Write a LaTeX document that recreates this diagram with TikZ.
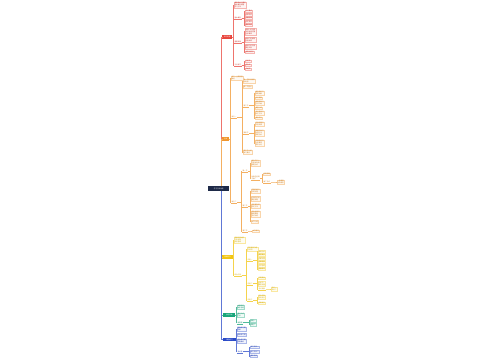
\documentclass[tikz,border=0pt]{standalone}
\usepackage{fontspec}
\newfontfamily\cjk{Noto Sans CJK SC}
\definecolor{cN}{HTML}{1E2A48}
\definecolor{cR}{HTML}{E8453C}
\definecolor{cO}{HTML}{F0962E}
\definecolor{cY}{HTML}{F2C511}
\definecolor{cG}{HTML}{17A57A}
\definecolor{cB}{HTML}{2B4BC8}
\tikzset{
  topic/.style={fill=#1,text=white,inner sep=.8pt,minimum height=3.4pt},
  leaf/.style={draw=#1!40,fill=#1!6,line width=.2pt,text=#1!85!black,align=left,inner sep=.5pt},
  tag/.style={text=#1!85!black,align=left,inner sep=.4pt,
    append after command={(\tikzlastnode.south west) edge[draw=#1!75,line width=.22pt] (\tikzlastnode.south east)}},
  link/.style={draw=#1!75,line width=.22pt}
}

\begin{document}
\begin{tikzpicture}
  [x=1pt,y=-1pt,every node/.style={anchor=west,font=\cjk\fontsize{1.6}{1.9}\selectfont}]
  \fill[white] (0,0) rectangle (500,360);
  \useasboundingbox (0,0) rectangle (500,360);

  \node[fill=cN,text=white,inner sep=.8pt,minimum width=21pt,minimum height=5pt] (root) at (208,188.5) {学习方法总结};
  \coordinate (rt) at (221.5,186);
  \coordinate (rb) at (221.5,191);

  % red
  \node[topic=cR,minimum width=10pt] (red) at (222,37) {知识梳理};
  \node[leaf=cR] (r0) at (234,5) {课程目标与要求\\基本概念梳理\\学习方法};
  \node[tag=cR] (r1) at (234,18) {基本概念};
  \node[leaf=cR] (r1a) at (245,11) {定义要点};
  \node[leaf=cR] (r1b) at (245,14.5) {性质特点};
  \node[leaf=cR] (r1c) at (245,18) {分类方法};
  \node[leaf=cR] (r1d) at (245,21.5) {判定条件};
  \node[leaf=cR] (r1e) at (245,25) {相关公式};
  \node[tag=cR] (r2) at (234,42) {重要规律};
  \node[leaf=cR] (r2a) at (245,31.5) {规律一的内容\\及其适用范围\\注意事项};
  \node[leaf=cR] (r2b) at (245,39.5) {规律二的推导\\过程说明};
  \node[leaf=cR] (r2c) at (245,46.5) {规律三的应用\\典型实例};
  \node[leaf=cR] (r2d) at (245,52) {易错点提示};
  \node[tag=cR] (r3) at (234,65) {方法技巧};
  \node[leaf=cR] (r3a) at (245,61) {分析法};
  \node[leaf=cR] (r3b) at (245,65) {综合法};
  \node[leaf=cR] (r3c) at (245,69) {归纳法};

  % orange
  \node[topic=cO,minimum width=7pt] (ora) at (222,139) {主体};
  \node[leaf=cO] (o1) at (231,78) {单元一主要内容\\概述};
  \node[tag=cO] (o2) at (231,117) {单元一};
  \node[leaf=cO] (o2a) at (243,81) {第一节知识框架\\结构图};
  \node[leaf=cO] (o2b) at (243,86.5) {第二节重点};
  \node[tag=cO] (o2c) at (243,105.5) {第三节};
  \node[leaf=cO] (o2c1) at (255,93) {概念辨析与\\例题讲解};
  \node[leaf=cO] (o2c2) at (255,98) {知识拓展};
  \node[leaf=cO] (o2c3) at (255,103) {解题思路与\\方法归纳};
  \node[leaf=cO] (o2c4) at (255,108) {课堂小练};
  \node[leaf=cO] (o2c5) at (255,113) {常见错误与\\纠正方法};
  \node[leaf=cO] (o2c6) at (255,118) {课后作业};
  \node[tag=cO] (o2d) at (243,133) {第四节};
  \node[leaf=cO] (o2d1) at (255,124) {实验原理与\\实验步骤};
  \node[leaf=cO] (o2d2) at (255,133) {数据记录与\\处理方法\\误差分析};
  \node[leaf=cO] (o2d3) at (255,143) {实验结论与\\注意事项\\思考讨论};
  \node[leaf=cO] (o2e) at (243,152) {第五节小结\\复习要点};
  \node[tag=cO] (o3) at (231,202) {单元二};
  \node[tag=cO] (o3a) at (242,171) {第一节};
  \node[leaf=cO] (o3a1) at (251,163) {概念的引入\\与基本性质\\例题分析};
  \node[tag=cO] (o3a2) at (251,178) {性质的证明\\与推广};
  \node[leaf=cO] (o3a2a) at (263,174) {证明思路};
  \node[tag=cO] (o3a2b) at (263,182) {推广形式};
  \node[leaf=cO] (o3a2c) at (277,182) {一般情形\\特殊情形};
  \node[tag=cO] (o3b) at (242,206) {第二节};
  \node[leaf=cO] (o3b1) at (251,191) {定理内容与\\证明过程};
  \node[leaf=cO] (o3b2) at (251,198.5) {定理的应用\\典型例题};
  \node[leaf=cO] (o3b3) at (251,206) {逆定理及其\\判定方法};
  \node[leaf=cO] (o3b4) at (251,214) {综合运用与\\解题策略\\变式训练};
  \node[leaf=cO] (o3b5) at (251,221.5) {本节小结};
  \node[tag=cO] (o3c) at (242,231) {第三节};
  \node[leaf=cO] (o3c1) at (252,231) {本节练习};

  % yellow
  \node[topic=cY,minimum width=10.5pt] (yel) at (222,257) {拓展提升};
  \node[leaf=cY] (y1) at (234,240) {拓展阅读材料\\与思考题\\参考答案};
  \node[tag=cY] (y2) at (234,275) {综合应用};
  \node[leaf=cY] (y2a) at (247,249) {应用背景介绍\\与说明};
  \node[tag=cY] (y2b) at (247,260) {应用一};
  \node[leaf=cY] (y2b1) at (258,251.5) {情境分析};
  \node[leaf=cY] (y2b2) at (258,255) {模型建立};
  \node[leaf=cY] (y2b3) at (258,258.5) {求解过程};
  \node[leaf=cY] (y2b4) at (258,262) {结果检验};
  \node[leaf=cY] (y2b5) at (258,265.5) {方法总结};
  \node[leaf=cY] (y2b6) at (258,269) {拓展练习};
  \node[tag=cY] (y2c) at (247,283.5) {应用二};
  \node[leaf=cY] (y2c1) at (258,278) {问题提出};
  \node[leaf=cY] (y2c2) at (258,283.5) {分析与\\解答过程};
  \node[tag=cY] (y2c3) at (258,289) {变式拓展};
  \node[leaf=cY] (y2c4) at (271,289) {变式一\\变式二};
  \node[tag=cY] (y2d) at (247,300) {应用三};
  \node[leaf=cY] (y2d1) at (258,297) {综合实践\\活动设计};
  \node[leaf=cY] (y2d2) at (258,303) {成果展示};

  % green
  \node[topic=cG,minimum width=12pt] (grn) at (223,315) {总结归纳};
  \node[leaf=cG] (g1) at (237,307) {本章知识\\体系总结};
  \node[leaf=cG] (g2) at (237,315) {重点公式\\汇总};
  \node[tag=cG] (g3) at (237,322.5) {易错题};
  \node[leaf=cG] (g3a) at (250,320.5) {错题一};
  \node[leaf=cG] (g3b) at (250,324.5) {错题二};

  % blue
  \node[topic=cB,minimum width=12.5pt] (blu) at (223,339.5) {课后练习};
  \node[leaf=cB] (b1) at (237,329) {基础练习题\\答案};
  \node[leaf=cB] (b2) at (237,334.5) {提高练习题};
  \node[leaf=cB] (b3) at (237,341) {综合练习题\\答案解析};
  \node[tag=cB] (b4) at (237,351.5) {测试卷};
  \node[leaf=cB] (b4a) at (250,347) {单元测试一};
  \node[leaf=cB] (b4b) at (250,351.5) {单元测试二};
  \node[leaf=cB] (b4c) at (250,356) {期末测试};

  % trunk
  \draw[link=cR] (rt) |- (red.west);
  \draw[link=cO] (rt) |- (ora.west);
  \draw[link=cY] (rb) |- (yel.west);
  \draw[link=cG] (rb) |- (grn.west);
  \draw[link=cB] (rb) |- (blu.west);

  \foreach \from/\to in {red/r0,red/r1,red/r2,red/r3,r1/r1a,r1/r1b,r1/r1c,r1/r1d,r1/r1e,
    r2/r2a,r2/r2b,r2/r2c,r2/r2d,r3/r3a,r3/r3b,r3/r3c}
    \draw[link=cR] (\from.east) -| ([xshift=-1.2pt]\to.west) -- (\to.west);

  \foreach \from/\to in {ora/o1,ora/o2,ora/o3,o2/o2a,o2/o2b,o2/o2c,o2/o2d,o2/o2e,
    o2c/o2c1,o2c/o2c2,o2c/o2c3,o2c/o2c4,o2c/o2c5,o2c/o2c6,o2d/o2d1,o2d/o2d2,o2d/o2d3,
    o3/o3a,o3/o3b,o3/o3c,o3a/o3a1,o3a/o3a2,o3a2/o3a2a,o3a2/o3a2b,o3a2b/o3a2c,
    o3b/o3b1,o3b/o3b2,o3b/o3b3,o3b/o3b4,o3b/o3b5,o3c/o3c1}
    \draw[link=cO] (\from.east) -| ([xshift=-1.2pt]\to.west) -- (\to.west);

  \foreach \from/\to in {yel/y1,yel/y2,y2/y2a,y2/y2b,y2/y2c,y2/y2d,
    y2b/y2b1,y2b/y2b2,y2b/y2b3,y2b/y2b4,y2b/y2b5,y2b/y2b6,
    y2c/y2c1,y2c/y2c2,y2c/y2c3,y2c3/y2c4,y2d/y2d1,y2d/y2d2}
    \draw[link=cY] (\from.east) -| ([xshift=-1.2pt]\to.west) -- (\to.west);

  \foreach \from/\to in {grn/g1,grn/g2,grn/g3,g3/g3a,g3/g3b}
    \draw[link=cG] (\from.east) -| ([xshift=-1.2pt]\to.west) -- (\to.west);

  \foreach \from/\to in {blu/b1,blu/b2,blu/b3,blu/b4,b4/b4a,b4/b4b,b4/b4c}
    \draw[link=cB] (\from.east) -| ([xshift=-1.2pt]\to.west) -- (\to.west);

\end{tikzpicture}
\end{document}
